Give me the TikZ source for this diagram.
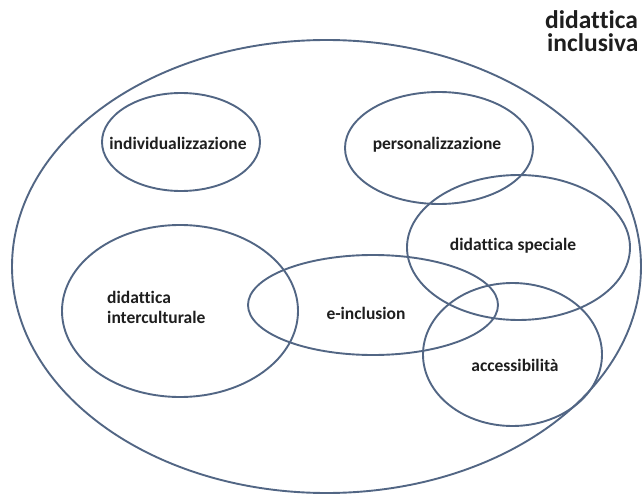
\documentclass[tikz,border=0pt]{standalone}
\usepackage{fontspec}
\setmainfont[Ligatures={NoCommon}]{Carlito}
\usetikzlibrary{shapes.geometric}
\definecolor{ringcol}{RGB}{82,102,132}
\definecolor{txtcol}{RGB}{30,30,30}
\begin{document}
\begin{tikzpicture}[x=1pt,y=-1pt,
  ring/.style={ellipse, draw=ringcol, line width=1.9pt, inner sep=0pt},
  lbl/.style={text=txtcol, font=\fontsize{17.5}{20}\selectfont\bfseries, inner sep=0pt},
  ttl/.style={text=txtcol, font=\fontsize{25.5}{25}\selectfont\bfseries, inner sep=0pt, anchor=base west}]
\useasboundingbox (0,0) rectangle (643,495);
% outer
\node[ring, minimum width=629pt, minimum height=453pt] (outer) at (326.5,266.5) {};
% inner ellipses
\node[ring, minimum width=158pt, minimum height=98pt] (indiv) at (181,142) {};
\node[ring, minimum width=188pt, minimum height=112pt] (pers) at (439,148) {};
\node[ring, minimum width=223pt, minimum height=145pt] (spec) at (518.5,247.5) {};
\node[ring, minimum width=236pt, minimum height=172pt] (inter) at (180,311) {};
\node[ring, minimum width=250pt, minimum height=100pt] (einc) at (373,305) {};
\node[ring, minimum width=179pt, minimum height=143pt] (acc) at (512.5,354.5) {};
% labels
\node[lbl] (tindiv) at (178,143) {individualizzazione};
\node[lbl] (tpers) at (437,145) {personalizzazione};
\node[lbl] (tspec) at (513,246) {didattica speciale};
\node[lbl, align=left, anchor=west] (tinter) at (107,307) {didattica\\interculturale};
\node[lbl] (teinc) at (366,313) {e-inclusion};
\node[lbl] (tacc) at (515,365) {accessibilità};
% title
\node[ttl] (title1) at (545,29) {didattica};
\node[ttl] (title2) at (547,52) {inclusiva};
\end{tikzpicture}
\end{document}
